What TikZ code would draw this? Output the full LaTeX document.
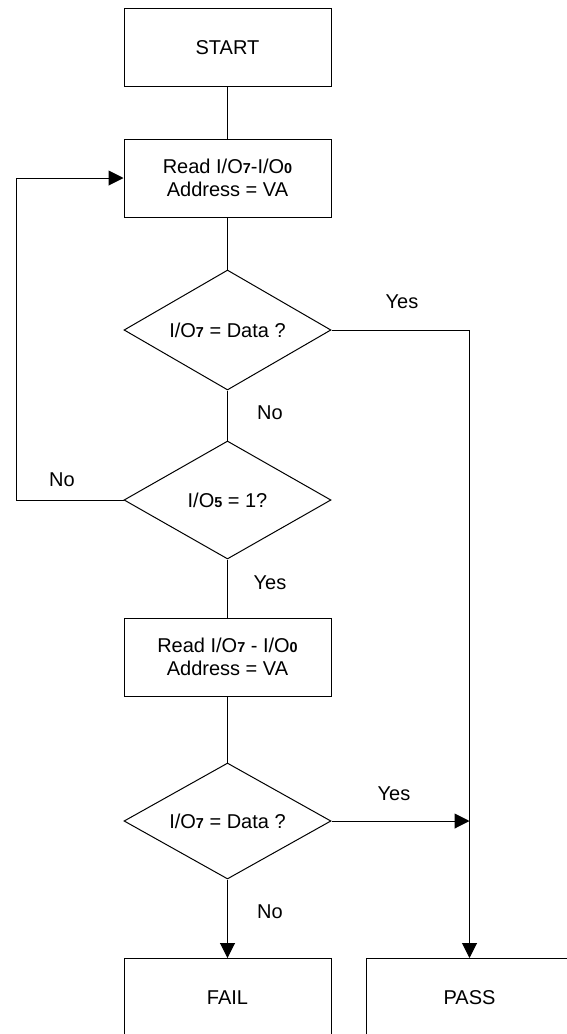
\documentclass[tikz,border=0pt]{standalone}
\usepackage{fontspec}
\setmainfont{Liberation Sans}
\usetikzlibrary{shapes.geometric,arrows.meta}
\newcommand{\iopin}[1]{I/O{\fontsize{7.2}{8}\selectfont\bfseries #1}}
\tikzset{
  stepbox/.style={draw,line width=0.5pt,minimum width=103.5pt,minimum height=39pt,inner sep=0pt,align=center},
  testbox/.style={draw,diamond,aspect=2,line width=0.5pt,minimum width=103.5pt,minimum height=60pt,inner sep=0pt,align=center},
  line/.style={line width=0.5pt},
  arr/.style={line width=0.5pt,-{Triangle[length=7.5pt,width=7.5pt]}},
}
\begin{document}
\begin{tikzpicture}[x=0.5pt,y=-0.5pt,font=\fontsize{10}{11.5}\selectfont]
    \useasboundingbox (0,0) rectangle (567,1034);
    \node[stepbox] (start) at (227.5,47.5) {START};
    \node[stepbox] (read1) at (227.5,178) {Read \iopin{7}-\iopin{0}\\Address = VA};
    \node[testbox] (test1) at (227.5,330) {\iopin{7} = Data ?};
    \node[testbox,minimum height=59pt] (test2) at (227.5,500) {\iopin{5} = 1?};
    \node[stepbox] (read2) at (227.5,657) {Read \iopin{7} - \iopin{0}\\Address = VA};
    \node[testbox,minimum height=58pt] (test3) at (227.5,821) {\iopin{7} = Data ?};
    \node[stepbox] (fail) at (227.5,997.5) {FAIL};
    \node[stepbox] (pass) at (469.5,997.5) {PASS};
    \coordinate (back) at (16,500);
    % labels
    \node (yes1) at (402,302) {Yes};
    \node (no1) at (270,413) {No};
    \node (no2) at (62,480) {No};
    \node (yes2) at (270,583) {Yes};
    \node (yes3) at (394,794) {Yes};
    \node (no3) at (270,912) {No};
    % connectors
    \draw[line] (start) -- (read1);
    \draw[line] (read1) -- (test1);
    \draw[line] (test1) -- (test2);
    \draw[line] (test2) -- (read2);
    \draw[line] (read2) -- (test3);
    \draw[arr] (test2.west) -- (back) |- (read1.west);
    \draw[arr] (test1.east) -| (pass.north);
    \draw[arr] (test3.east) -- (test3.east -| pass.north);
    \draw[arr] (test3) -- (fail);
\end{tikzpicture}
\end{document}
